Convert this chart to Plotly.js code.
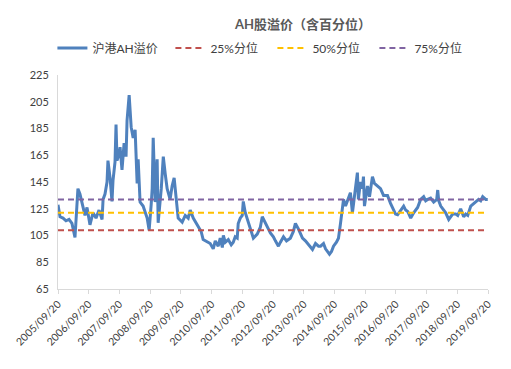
<!DOCTYPE html>
<html>
<head>
<meta charset="utf-8">
<script src="https://cdn.plot.ly/plotly-3.0.1.min.js"></script>
<style>html,body{margin:0;padding:0;background:#fff;}#chart{width:511px;height:369px;}</style>
</head>
<body>
<div id="chart"></div>
<script>
const dates = ["2005-09-20","2005-10-14","2005-11-19","2005-12-24","2006-01-29","2006-03-05","2006-04-10","2006-05-03","2006-05-15","2006-06-08","2006-07-02","2006-08-07","2006-08-31","2006-10-05","2006-11-10","2006-12-16","2007-01-21","2007-02-26","2007-03-10","2007-04-02","2007-04-26","2007-05-07","2007-06-01","2007-06-24","2007-07-06","2007-07-30","2007-08-11","2007-08-23","2007-09-16","2007-09-28","2007-10-21","2007-11-15","2007-12-08","2007-12-20","2008-01-14","2008-02-07","2008-03-02","2008-03-25","2008-04-18","2008-04-30","2008-05-23","2008-06-28","2008-08-15","2008-09-08","2008-10-02","2008-10-14","2008-10-26","2008-11-19","2008-12-12","2008-12-24","2009-01-30","2009-02-23","2009-03-18","2009-04-10","2009-05-15","2009-06-08","2009-07-02","2009-07-26","2009-08-19","2009-10-06","2009-11-11","2009-12-16","2010-01-09","2010-02-14","2010-04-14","2010-05-19","2010-06-12","2010-07-30","2010-09-04","2010-10-10","2010-11-03","2010-12-08","2011-01-01","2011-01-26","2011-02-07","2011-03-02","2011-04-07","2011-05-12","2011-06-05","2011-06-28","2011-07-22","2011-08-03","2011-08-27","2011-09-20","2011-10-02","2011-10-26","2011-11-19","2011-12-24","2012-01-30","2012-03-16","2012-04-21","2012-05-15","2012-06-20","2012-07-26","2012-08-19","2012-09-24","2012-10-18","2012-11-23","2012-12-17","2013-01-22","2013-02-27","2013-04-14","2013-05-20","2013-06-13","2013-07-18","2013-08-11","2013-09-05","2013-10-10","2013-11-03","2013-12-09","2014-01-02","2014-02-07","2014-03-15","2014-04-08","2014-05-13","2014-06-06","2014-06-29","2014-07-23","2014-08-16","2014-09-09","2014-10-14","2014-11-07","2014-12-01","2014-12-25","2015-01-06","2015-01-30","2015-02-22","2015-03-06","2015-03-29","2015-04-22","2015-05-28","2015-06-20","2015-07-02","2015-07-26","2015-08-19","2015-08-31","2015-09-12","2015-10-06","2015-10-18","2015-11-11","2015-12-16","2016-01-09","2016-02-14","2016-03-21","2016-04-26","2016-06-12","2016-07-18","2016-08-23","2016-09-16","2016-10-10","2016-11-15","2016-12-21","2017-01-14","2017-02-07","2017-03-15","2017-04-19","2017-06-05","2017-07-11","2017-08-16","2017-09-09","2017-10-03","2017-11-07","2017-12-13","2018-01-18","2018-01-30","2018-02-11","2018-03-07","2018-04-12","2018-05-05","2018-06-10","2018-07-04","2018-07-27","2018-09-01","2018-09-25","2018-10-30","2018-12-05","2018-12-29","2019-01-22","2019-02-27","2019-04-03","2019-04-27","2019-06-01","2019-06-25","2019-07-19","2019-08-24","2019-09-17"];
const ahPremium = [128,119,118,116,117,114,103.5,125,140,136,130,120,126,113,122,118,124,117,132,136,145,161,148,130.5,146,160,188,161,166,171,154,174,164,191,210,186,178,184,144,162,130,127,118,109,128,140,178,130,162,114.5,140,164,151,140,132,142,148,130,118,115,120,118,124,118,112,108,102,100,99,95,101,97,103,96,105,100,102,98,100,104,103,114,118,120,130.5,122,117,109,103,106,111,119,115,110,107,104,101,97,100,104,101,103,108,114,110,106,103,101,99,96,94.5,99,97,97,99,95,93,91,93,97,100,103,114,127,132,127,131,134,137,122,140,152,132,145,140,149,127,138,142,134,149,144,142,140,135,135,129,124,121,120.5,124,127,124,123,118,122,126,132,134,131,132,133,130,132,139,131,127,124,122,117,119,121,121,120,125,119,121,120,127,129,130,132,131,134,132,132];

const pctDates = ["2005-09-20","2019-09-20"];
const p25 = [109,109];
const p50 = [122,122];
const p75 = [132,132];

const tickDates = ["2005-09-20","2006-09-20","2007-09-20","2008-09-20","2009-09-20","2010-09-20","2011-09-20","2012-09-20","2013-09-20","2014-09-20","2015-09-20","2016-09-20","2017-09-20","2018-09-20","2019-09-20"];
const tickLabels = ["2005/09/20","2006/09/20","2007/09/20","2008/09/20","2009/09/20","2010/09/20","2011/09/20","2012/09/20","2013/09/20","2014/09/20","2015/09/20","2016/09/20","2017/09/20","2018/09/20","2019/09/20"];

const FONT = "Lato, 'Noto Sans CJK SC', sans-serif";

const traces = [
  {x: dates, y: ahPremium, type:'scatter', mode:'lines', name:'沪港AH溢价', legendwidth:73,
   line:{color:'#4F81BD', width:3}},
  {x: pctDates, y: p25, type:'scatter', mode:'lines', name:'25%分位', legendwidth:57,
   line:{color:'#C0504D', width:2, dash:'6px,4px'}},
  {x: pctDates, y: p50, type:'scatter', mode:'lines', name:'50%分位', legendwidth:57,
   line:{color:'#FFC000', width:2, dash:'6px,4px'}},
  {x: pctDates, y: p75, type:'scatter', mode:'lines', name:'75%分位', legendwidth:57,
   line:{color:'#8064A2', width:2, dash:'6px,4px'}}
];

const layout = {
  width:511, height:369,
  margin:{l:58, r:23, t:75, b:80},
  paper_bgcolor:'#fff', plot_bgcolor:'#fff',
  font:{family:FONT, color:'#404040', size:11},
  title:{text:'<b>AH股溢价（含百分位）</b>', x:0.593, xanchor:'center', y:0.935, yanchor:'middle',
    font:{family:FONT, size:13, color:'#595959'}},
  showlegend:true,
  legend:{orientation:'h', x:-0.013, xanchor:'left', y:1.126, yanchor:'middle',
    font:{family:FONT, size:12, color:'#404040'}, bgcolor:'rgba(0,0,0,0)', itemwidth:30, tracegroupgap:0},
  xaxis:{type:'date', range:['2005-09-20','2019-09-20'], tickmode:'array', tickvals:tickDates, ticktext:tickLabels,
    tickangle:-45, ticks:'outside', ticklen:4, tickcolor:'#d9d9d9', showline:true, linecolor:'#d9d9d9', linewidth:1,
    showgrid:false, zeroline:false, tickfont:{family:FONT, size:10.5, color:'#404040'}},
  yaxis:{range:[65,225], tickmode:'linear', tick0:65, dtick:20, showgrid:false, zeroline:false,
    showline:true, linecolor:'#d9d9d9', linewidth:1, ticks:'', ticklabelstandoff:6,
    tickfont:{family:FONT, size:11, color:'#404040'}}
};

Plotly.newPlot('chart', traces, layout, {displayModeBar:false, staticPlot:true});
</script>
</body>
</html>
